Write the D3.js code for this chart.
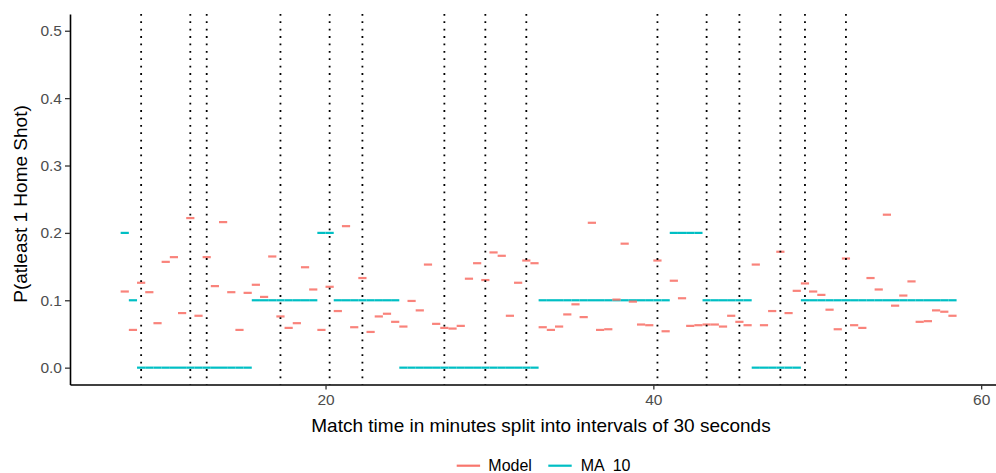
<!DOCTYPE html>
<html>
<head>
<meta charset="utf-8">
<script src="https://cdn.jsdelivr.net/npm/d3@7"></script>
<style>
  body { margin: 0; background: #fff; }
  svg { display: block; font-family: "Liberation Sans", Arial, sans-serif; }
</style>
</head>
<body>
<div id="chart"></div>
<script>
// interval start times (minutes), one per 30 second bin
const intervalStart = [
  7.5, 8, 8.5, 9, 9.5, 10, 10.5, 11, 11.5, 12, 12.5, 13, 13.5, 14, 14.5, 15,
  15.5, 16, 16.5, 17, 17.5, 18, 18.5, 19, 19.5, 20, 20.5, 21, 21.5, 22, 22.5,
  23, 23.5, 24, 24.5, 25, 25.5, 26, 26.5, 27, 27.5, 28, 28.5, 29, 29.5, 30,
  30.5, 31, 31.5, 32, 32.5, 33, 33.5, 34, 34.5, 35, 35.5, 36, 36.5, 37, 37.5,
  38, 38.5, 39, 39.5, 40, 40.5, 41, 41.5, 42, 42.5, 43, 43.5, 44, 44.5, 45,
  45.5, 46, 46.5, 47, 47.5, 48, 48.5, 49, 49.5, 50, 50.5, 51, 51.5, 52, 52.5,
  53, 53.5, 54, 54.5, 55, 55.5, 56, 56.5, 57, 57.5, 58
];

const modelValues = [
  0.113, 0.056, 0.126, 0.112, 0.066, 0.157, 0.164, 0.081, 0.222, 0.077, 0.164,
  0.121, 0.216, 0.112, 0.056, 0.111, 0.123, 0.105, 0.165, 0.076, 0.059, 0.066,
  0.149, 0.116, 0.056, 0.120, 0.084, 0.210, 0.060, 0.133, 0.053, 0.076, 0.080,
  0.068, 0.061, 0.099, 0.085, 0.153, 0.065, 0.059, 0.058, 0.062, 0.132, 0.155,
  0.130, 0.171, 0.166, 0.077, 0.126, 0.159, 0.155, 0.060, 0.056, 0.061, 0.079,
  0.094, 0.075, 0.215, 0.056, 0.057, 0.101, 0.184, 0.098, 0.064, 0.063, 0.159,
  0.054, 0.129, 0.103, 0.062, 0.063, 0.064, 0.064, 0.061, 0.077, 0.068, 0.063,
  0.153, 0.063, 0.084, 0.172, 0.081, 0.114, 0.125, 0.113, 0.108, 0.086, 0.057,
  0.162, 0.063, 0.059, 0.133, 0.116, 0.227, 0.092, 0.107, 0.128, 0.068, 0.069,
  0.085, 0.083, 0.077
];

const ma10Values = [
  0.2, 0.1,
  0, 0, 0, 0, 0, 0, 0, 0, 0, 0, 0, 0, 0, 0,
  0.1, 0.1, 0.1, 0.1, 0.1, 0.1, 0.1, 0.1,
  0.2, 0.2,
  0.1, 0.1, 0.1, 0.1, 0.1, 0.1, 0.1, 0.1,
  0, 0, 0, 0, 0, 0, 0, 0, 0, 0, 0, 0, 0, 0, 0, 0, 0,
  0.1, 0.1, 0.1, 0.1, 0.1, 0.1, 0.1, 0.1, 0.1, 0.1, 0.1, 0.1, 0.1, 0.1, 0.1, 0.1,
  0.2, 0.2, 0.2, 0.2,
  0.1, 0.1, 0.1, 0.1, 0.1, 0.1,
  0, 0, 0, 0, 0, 0,
  0.1, 0.1, 0.1, 0.1, 0.1, 0.1, 0.1, 0.1, 0.1, 0.1, 0.1, 0.1, 0.1, 0.1, 0.1, 0.1,
  0.1, 0.1, 0.1
];

// times of the dotted vertical markers
const shotTimes = [8.75, 11.75, 12.75, 17.25, 20.25, 22.25, 27.25, 29.75, 32.25,
  40.25, 43.25, 45.25, 47.75, 49.25, 51.75];

const xTicks = [20, 40, 60];
const yTicks = [0, 0.1, 0.2, 0.3, 0.4, 0.5];
const seriesNames = ["Model", "MA  10"];
const seriesColors = ["#F8766D", "#00BFC4"];

const binWidth = 0.5;
const width = 996, height = 473;
const panel = {left: 70, right: 1001, top: 13.9, bottom: 384.5};

const svg = d3.select("#chart").append("svg")
  .attr("width", width)
  .attr("height", height);

const x = d3.scaleLinear().domain([4.41, 61.21]).range([panel.left, panel.right]);
const y = d3.scaleLinear().domain([-0.025, 0.525]).range([panel.bottom, panel.top]);

const plot = svg.append("g");

// MA 10 segments
plot.append("g").selectAll("line")
  .data(intervalStart.map((t, i) => ({t, v: ma10Values[i]})))
  .join("line")
  .attr("x1", d => x(d.t))
  .attr("x2", d => x(d.t + binWidth))
  .attr("y1", d => y(d.v))
  .attr("y2", d => y(d.v))
  .attr("stroke", seriesColors[1])
  .attr("stroke-width", 2.2);

// model segments
plot.append("g").selectAll("line")
  .data(intervalStart.map((t, i) => ({t, v: modelValues[i]})))
  .join("line")
  .attr("x1", d => x(d.t))
  .attr("x2", d => x(d.t + binWidth))
  .attr("y1", d => y(d.v))
  .attr("y2", d => y(d.v))
  .attr("stroke", seriesColors[0])
  .attr("stroke-opacity", 0.9)
  .attr("stroke-width", 2.2);

// dotted shot markers
plot.append("g").selectAll("line")
  .data(shotTimes)
  .join("line")
  .attr("x1", d => x(d))
  .attr("x2", d => x(d))
  .attr("y1", panel.top)
  .attr("y2", panel.bottom)
  .attr("stroke", "#000")
  .attr("stroke-width", 1.8)
  .attr("stroke-dasharray", "1.8 5.6");

// axes
const xAxis = svg.append("g")
  .attr("transform", `translate(0,${panel.bottom})`)
  .call(d3.axisBottom(x).tickValues(xTicks).tickSize(5).tickSizeOuter(0)
    .tickPadding(4).tickFormat(d3.format("d")));

const yAxis = svg.append("g")
  .attr("transform", `translate(${panel.left},0)`)
  .call(d3.axisLeft(y).tickValues(yTicks).tickSize(5).tickSizeOuter(0)
    .tickPadding(3).tickFormat(d3.format(".1f")));

[xAxis, yAxis].forEach(a => {
  a.select(".domain").attr("stroke", "#000").attr("stroke-width", 1.6);
  a.selectAll(".tick line").attr("stroke", "#333").attr("stroke-width", 1.3);
  a.selectAll(".tick text")
    .attr("fill", "#4D4D4D")
    .style("font-size", "15.5px")
    .style("font-family", "Liberation Sans, Arial, sans-serif");
});

// axis titles
svg.append("text")
  .attr("x", 541)
  .attr("y", 432)
  .attr("text-anchor", "middle")
  .style("font-size", "19px")
  .text("Match time in minutes split into intervals of 30 seconds");

svg.append("text")
  .attr("transform", "translate(26.7,204) rotate(-90)")
  .attr("text-anchor", "middle")
  .style("font-size", "19px")
  .text("P(atleast 1 Home Shot)");

// legend
const legendItems = [
  {name: seriesNames[0], color: seriesColors[0], keyX: 456.7, textX: 488.3},
  {name: seriesNames[1], color: seriesColors[1], keyX: 548.3, textX: 580.7}
];
const legend = svg.append("g");
legendItems.forEach(item => {
  legend.append("line")
    .attr("x1", item.keyX)
    .attr("x2", item.keyX + 23.4)
    .attr("y1", 465.7)
    .attr("y2", 465.7)
    .attr("stroke", item.color)
    .attr("stroke-width", 2.2);
  legend.append("text")
    .attr("x", item.textX)
    .attr("y", 471.2)
    .style("font-size", "16px")
    .style("white-space", "pre")
    .text(item.name);
});
</script>
</body>
</html>
